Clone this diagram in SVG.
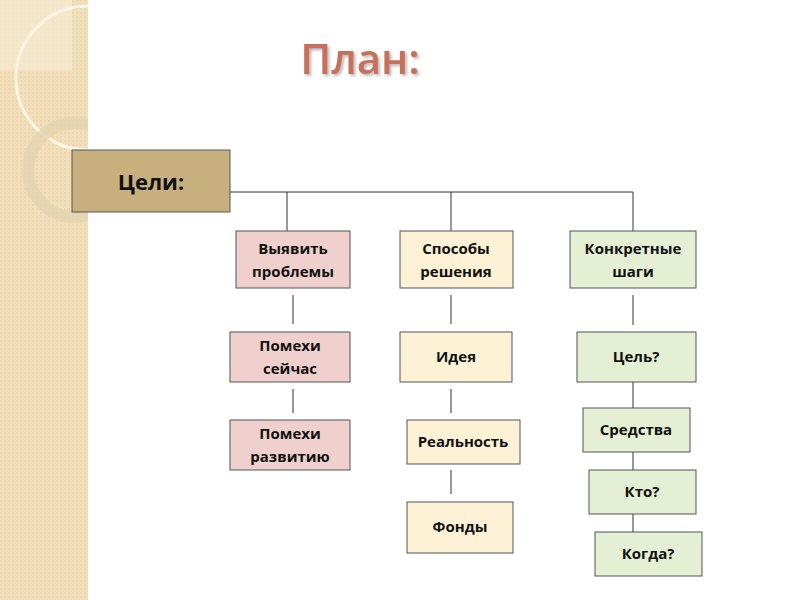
<svg xmlns="http://www.w3.org/2000/svg" width="800" height="600" viewBox="0 0 800 600">
<style>
.b{stroke:#555;stroke-width:1}
.t{font-family:"Open Sans","Liberation Sans",sans-serif;font-weight:bold;font-size:15px;fill:#111;text-anchor:middle}
.c line{stroke:#333;stroke-width:1}
</style>
<defs>
<pattern id="p" width="4" height="4" patternUnits="userSpaceOnUse"><rect width="4" height="4" fill="#f1e0bb"/><rect width="2" height="2" fill="#ead6aa"/></pattern>
<clipPath id="strip"><rect x="0" y="0" width="88" height="600"/></clipPath>
<filter id="sh" x="-10%" y="-10%" width="130%" height="140%"><feDropShadow dx="2" dy="2" stdDeviation="1.5" flood-color="#888" flood-opacity="0.6"/></filter>
</defs>
<rect width="800" height="600" fill="#fff"/>
<rect x="0" y="0" width="88" height="600" fill="url(#p)"/>
<g clip-path="url(#strip)">
<rect x="0" y="0" width="72" height="70" fill="#f6ebd3" opacity="0.7"/>
<circle cx="88" cy="78" r="72" fill="none" stroke="#fbf5e6" stroke-width="3"/>
<circle cx="75" cy="170" r="47" fill="none" stroke="#e4d3b0" stroke-width="12" opacity="0.8"/>
</g>
<text x="360" y="74" font-family="Open Sans,Liberation Sans,sans-serif" font-size="42" font-weight="600" fill="#c9705a" text-anchor="middle" filter="url(#sh)">План:</text>
<g class="c" id="connectors">
<line x1="230" y1="192" x2="633" y2="192"/>
<line x1="287" y1="192" x2="287" y2="231"/>
<line x1="451" y1="192" x2="451" y2="231"/>
<line x1="633" y1="192" x2="633" y2="231"/>
<line x1="293" y1="295" x2="293" y2="324"/>
<line x1="451" y1="295" x2="451" y2="324"/>
<line x1="633" y1="295" x2="633" y2="325"/>
<line x1="293" y1="389" x2="293" y2="413"/>
<line x1="451" y1="389" x2="451" y2="413"/>
<line x1="451" y1="470" x2="451" y2="494"/>
<line x1="633" y1="382" x2="633" y2="408"/>
<line x1="633" y1="452" x2="633" y2="470"/>
<line x1="633" y1="514" x2="633" y2="532"/>
</g>
<g id="goals"><rect class="b" x="72" y="150" width="158" height="62" fill="#c8b07e"/><text x="151" y="190" font-family="Open Sans,Liberation Sans,sans-serif" font-weight="bold" font-size="22" text-anchor="middle" fill="#111">Цели:</text></g>
<g id="n1"><rect class="b" x="236" y="231" width="114" height="57" fill="#efd0cc"/><text class="t" x="293" y="254">Выявить</text><text class="t" x="293" y="277">проблемы</text></g>
<g id="n2"><rect class="b" x="400" y="231" width="113" height="57" fill="#fdf2d6"/><text class="t" x="456" y="254">Способы</text><text class="t" x="456" y="277">решения</text></g>
<g id="n3"><rect class="b" x="570" y="231" width="126" height="57" fill="#e5efd4"/><text class="t" x="633" y="254">Конкретные</text><text class="t" x="633" y="277">шаги</text></g>
<g id="n4"><rect class="b" x="230" y="332" width="120" height="50" fill="#efd0cc"/><text class="t" x="290" y="351">Помехи</text><text class="t" x="290" y="374">сейчас</text></g>
<g id="n5"><rect class="b" x="400" y="332" width="112" height="50" fill="#fdf2d6"/><text class="t" x="456" y="362">Идея</text></g>
<g id="n6"><rect class="b" x="577" y="332" width="119" height="50" fill="#e5efd4"/><text class="t" x="636" y="362">Цель?</text></g>
<g id="n7"><rect class="b" x="230" y="420" width="120" height="50" fill="#efd0cc"/><text class="t" x="290" y="439">Помехи</text><text class="t" x="290" y="462">развитию</text></g>
<g id="n8"><rect class="b" x="407" y="420" width="113" height="44" fill="#fdf2d6"/><text class="t" x="463" y="447">Реальность</text></g>
<g id="n9"><rect class="b" x="407" y="502" width="106" height="51" fill="#fdf2d6"/><text class="t" x="460" y="532">Фонды</text></g>
<g id="n10"><rect class="b" x="583" y="408" width="107" height="44" fill="#e5efd4"/><text class="t" x="636" y="435">Средства</text></g>
<g id="n11"><rect class="b" x="589" y="470" width="107" height="44" fill="#e5efd4"/><text class="t" x="642" y="497">Кто?</text></g>
<g id="n12"><rect class="b" x="595" y="532" width="107" height="44" fill="#e5efd4"/><text class="t" x="648" y="559">Когда?</text></g>
</svg>
